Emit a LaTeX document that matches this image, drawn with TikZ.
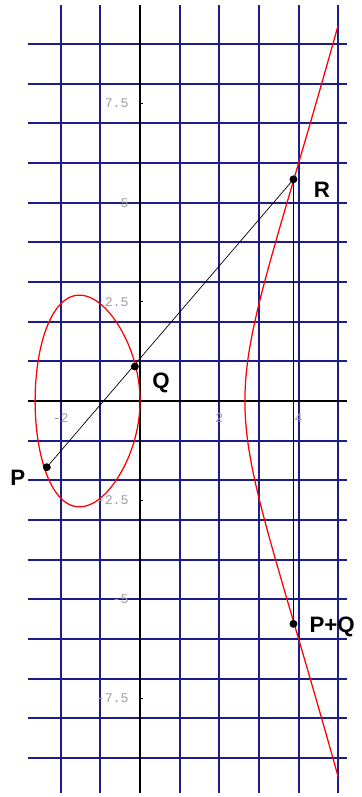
\documentclass[tikz,border=0pt]{standalone}
\usepackage{fontspec}
\setmainfont{Liberation Sans}
\setmonofont{Liberation Mono}
\definecolor{rede}{RGB}{28,28,140}
\definecolor{cinza}{gray}{0.62}

\begin{document}
\begin{tikzpicture}[
	grade/.style={rede, line width=1.4pt},
	eixo/.style={black, line width=1.4pt},
	curva/.style={red, line width=0.9pt},
	ponto/.style={circle, fill=black, inner sep=0pt, minimum size=2mm},
	rotulo/.style={font=\fontsize{16}{16}\selectfont\bfseries},
	escala/.style={font=\ttfamily\fontsize{9.5}{9.5}\selectfont, text=cinza, anchor=east, inner sep=0pt}]

\useasboundingbox (-3.531,-9.987) rectangle (5.574,10.113);

% Grade
	\foreach \x in {-2,-1,1,2,3,4,5}
		\draw[grade] (\x,-9.89) -- (\x,9.99);

	\foreach \y in {1,...,9} {
		\draw[grade] (-2.825,\y) -- (5.22,\y);
		\draw[grade] (-2.825,-\y) -- (5.22,-\y);
	}

% Eixos
	\draw[eixo] (-2.825,0) -- (5.22,0);
	\draw[eixo] (0,-9.89) -- (0,9.99);

	\foreach \y in {-7.5,-2.5,2.5,7.5}
		\draw[black, line width=0.6pt] (0,\y) -- (0.08,\y);

	\foreach \y in {-7.5,-5,-2.5,2.5,5,7.5}
		\node[escala] (e\y) at (-0.28,\y) {\y};

	\foreach \x in {-2,2,4}
		\node[escala, anchor=center] (e\x) at (\x,-0.42) {\x};

% Curva
	\draw[curva] plot[domain=0:180, samples=160, variable=\t]
		({-sqrt(7)*cos(\t)*cos(\t)}, {sqrt(7*sqrt(7))*cos(\t)*sin(\t)*sqrt(1+cos(\t)*cos(\t))}) -- cycle;
	\draw[curva] plot[domain=-1.5343:1.5343, samples=160, variable=\u]
		({sqrt(7)+\u*\u}, {\u*sqrt((sqrt(7)+\u*\u)*(2*sqrt(7)+\u*\u))});

% Pontos
	\node[ponto] (P) at (-2.35,-1.67) {};
	\node[ponto] (Q) at (-0.13,0.87) {};
	\node[ponto] (R) at (3.87,5.59) {};
	\node[ponto] (PQ) at (3.87,-5.62) {};

	\draw[black, line width=0.5pt] (P.center) -- (R.center);
	\draw[black, line width=1.1pt] (R.center) -- (PQ.center);

	\node[rotulo] (lP) at (-3.08,-1.94) {P};
	\node[rotulo] (lQ) at (0.53,0.45) {Q};
	\node[rotulo] (lR) at (4.59,5.32) {R};
	\node[rotulo, anchor=west, inner sep=0pt] (lPQ) at (4.27,-5.70) {P+Q};
\end{tikzpicture}
\end{document}
